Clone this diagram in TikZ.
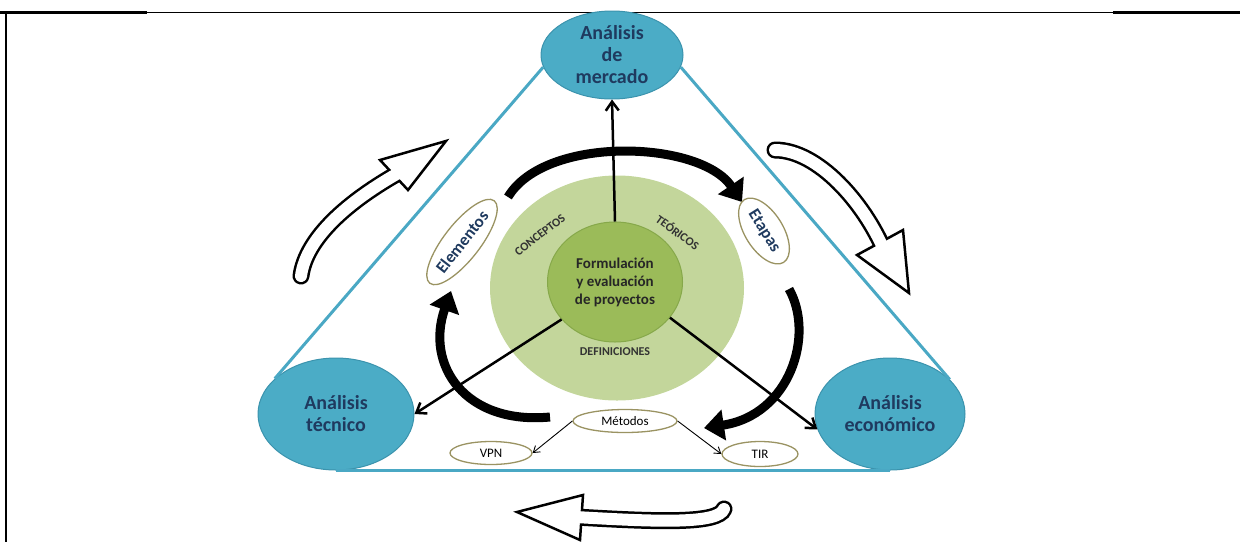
\documentclass[tikz,border=0pt]{standalone}
\usepackage{fontspec}
\setmainfont{Carlito}
\usetikzlibrary{shapes.geometric,arrows.meta}
\definecolor{ovalblue}{HTML}{4BACC6}
\definecolor{ovaledge}{HTML}{3B93AD}
\definecolor{sideblue}{HTML}{4AA8C4}
\definecolor{navy}{HTML}{1F3A5F}
\definecolor{ringgreen}{HTML}{C3D69B}
\definecolor{coregreen}{HTML}{9BBB59}
\definecolor{coreedge}{HTML}{86A84A}
\definecolor{tagedge}{HTML}{9A9362}

\begin{document}
\begin{tikzpicture}[x=1pt,y=-1pt,
    area/.style={ellipse,fill=ovalblue,draw=ovaledge,line width=1pt,text=navy,align=center,inner sep=0pt,font=\fontsize{20}{22}\selectfont\bfseries},
    tag/.style={ellipse,fill=white,draw=tagedge,line width=1.3pt,inner sep=0pt,font=\fontsize{13}{15}\selectfont},
    word/.style={text=navy,font=\fontsize{17}{19}\selectfont\bfseries},
    ringtext/.style={text=black!80,font=\fontsize{12}{14}\selectfont\bfseries},
    side/.style={draw=sideblue,line width=3pt},
    spoke/.style={draw=black,line width=2.5pt,-{Straight Barb[length=9pt,width=13pt]}},
    link/.style={draw=black,line width=0.9pt,-{Straight Barb[length=6pt,width=8pt]}},
    swirl/.style={draw=black,line width=9pt,-{Triangle[length=20pt,width=30pt]}},
    hollowout/.style={draw=black,line width=17pt,line cap=round},
    hollowin/.style={draw=white,line width=12pt,line cap=round},
    hollowhead/.style={fill=white,draw=black,line width=2.5pt,line join=miter},
  ]
  \useasboundingbox (0,0) rectangle (1240,542);

  % frame
  \draw[line width=1pt] (0,12) -- (1240,12);
  \draw[line width=3pt] (0,12) -- (147,12);
  \draw[line width=3pt] (1113,12) -- (1240,12);
  \draw[line width=2.5pt] (6,12) -- (6,542);

  % centre
  \node[ellipse,fill=ringgreen,minimum width=254pt,minimum height=225pt,inner sep=0pt] (ring) at (617,288) {};
  \node[ellipse,fill=coregreen,draw=coreedge,line width=1pt,minimum width=135pt,minimum height=120pt,inner sep=0pt,
        align=center,text=black!85,font=\fontsize{15}{18}\selectfont\bfseries] (core) at (615,282)
        {Formulación\\y evaluación\\de proyectos};
  \node[ringtext,rotate=38] (conc) at (540,235) {CONCEPTOS};
  \node[ringtext,rotate=-36] (teor) at (678,232) {TEÓRICOS};
  \node[ringtext] (defi) at (615,352) {DEFINICIONES};

  % the three analyses
  \node[area,minimum width=142pt,minimum height=88pt] (merc) at (612,55) {Análisis\\de\\mercado};
  \node[area,minimum width=156pt,minimum height=112pt] (tec) at (336,414) {Análisis\\técnico};
  \node[area,minimum width=150pt,minimum height=112pt] (eco) at (890,414) {Análisis\\económico};

  \draw[side] (merc.190) -- (tec.150);
  \draw[side] (merc.-10) -- (eco.30);
  \draw[side] (tec.south) -- (eco.south);

  % turning arrows
  \draw[swirl] (508,197) .. controls (545,135) and (700,140) .. (742,202);
  \draw[swirl] (789,289) .. controls (815,335) and (790,415) .. (704,428);
  \draw[swirl] (550,417) .. controls (465,425) and (425,365) .. (451,291);

  \draw[spoke] (core.north) -- (merc.south);
  \draw[spoke] (core.215) -- (tec.east);
  \draw[spoke] (core.327) -- (eco.192);

  % small tags
  \node[tag,word,rotate=52,minimum width=94pt,minimum height=36pt] (elem) at (462,242) {Elementos};
  \node[tag,word,rotate=-58,minimum width=74pt,minimum height=38pt] (etap) at (764,231) {Etapas};
  \node[tag,minimum width=104pt,minimum height=23pt] (met) at (625,421) {Métodos};
  \node[tag,minimum width=82pt,minimum height=23pt] (vpn) at (491,453) {VPN};
  \node[tag,minimum width=76pt,minimum height=25pt] (tir) at (760,454) {TIR};
  \draw[link] (met.west) -- (vpn.east);
  \draw[link] (met.east) -- (tir.west);

  % hollow arrows outside
  \draw[hollowout] (301,276) .. controls (306,238) and (348,201) .. (402,171);
  \draw[hollowhead] (446,141) -- (380,160) -- (408,190) -- cycle;
  \draw[hollowin] (301,276) .. controls (306,238) and (348,201) .. (402,171);

  \draw[hollowout] (775,150) .. controls (818,150) and (864,203) .. (884,250);
  \draw[hollowhead] (909,293) -- (857,255) -- (903,230) -- cycle;
  \draw[hollowin] (775,150) .. controls (818,150) and (864,203) .. (884,250);

  \draw[hollowout] (724,509) .. controls (718,524) and (660,522) .. (576,517);
  \draw[hollowhead] (517,512) -- (583,495) -- (580,540) -- cycle;
  \draw[hollowin] (724,509) .. controls (718,524) and (660,522) .. (576,517);
\end{tikzpicture}
\end{document}
